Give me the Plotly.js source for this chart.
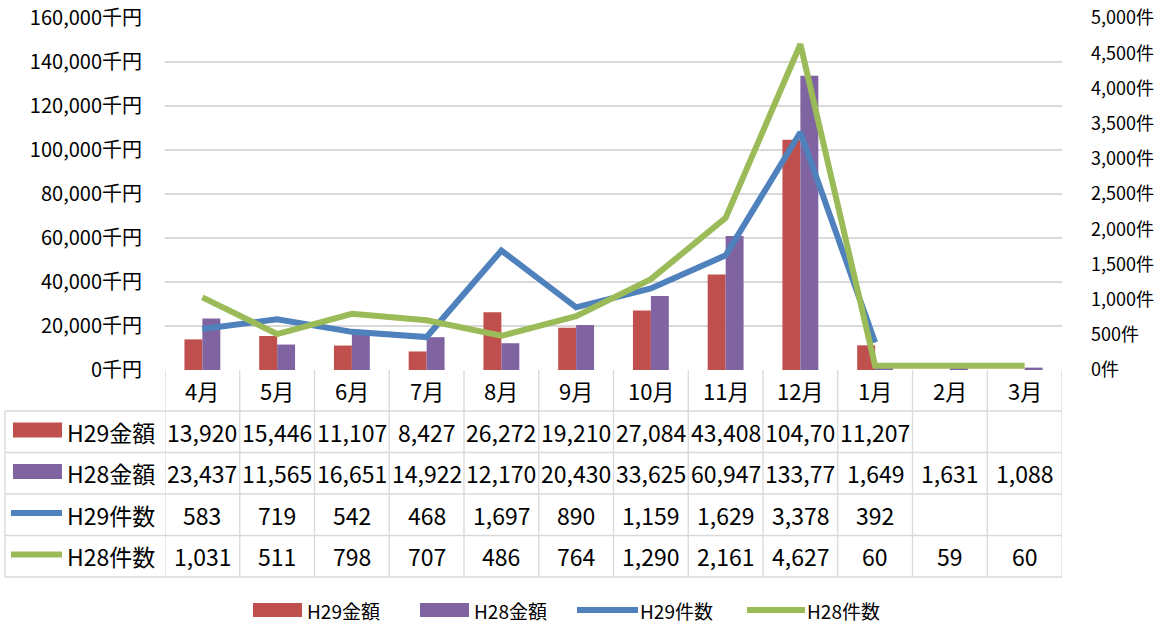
<!DOCTYPE html>
<html>
<head>
<meta charset="utf-8">
<script src="https://cdn.plot.ly/plotly-3.0.1.min.js"></script>
<style>
  html, body { margin: 0; padding: 0; background: #fff; }
  #chart { width: 1160px; height: 623px; }
</style>
</head>
<body>
<div id="chart"></div>
<script>
// ---- data ----
const months = ['4月','5月','6月','7月','8月','9月','10月','11月','12月','1月','2月','3月'];
const h29Amount = [13920, 15446, 11107, 8427, 26272, 19210, 27084, 43408, 104700, 11207, null, null];
const h28Amount = [23437, 11565, 16651, 14922, 12170, 20430, 33625, 60947, 133770, 1649, 1631, 1088];
const h29Count  = [583, 719, 542, 468, 1697, 890, 1159, 1629, 3378, 392, null, null];
const h28Count  = [1031, 511, 798, 707, 486, 764, 1290, 2161, 4627, 60, 59, 60];
const seriesNames = ['H29金額', 'H28金額', 'H29件数', 'H28件数'];
const leftTickSuffix = '千円';
const rightTickSuffix = '件';

// ---- style ----
const colors = ['#C0504D', '#8064A2', '#4F81BD', '#9BBB59'];
const FONT = '"Noto Sans CJK JP", "Noto Sans", sans-serif';
const gridColor = '#D9D9D9';

const W = 1160, H = 623;
const M = {l: 165, r: 98, t: 18, b: 253};
const PW = W - M.l - M.r, PH = H - M.t - M.b;
const px = x => (x - M.l) / PW;            // pixel x -> paper x
const py = y => (H - M.b - y) / PH;        // pixel y -> paper y

const traces = [
  {type: 'bar', name: seriesNames[0], x: months, y: h29Amount, marker: {color: colors[0]}, yaxis: 'y'},
  {type: 'bar', name: seriesNames[1], x: months, y: h28Amount, marker: {color: colors[1]}, yaxis: 'y'},
  {type: 'scatter', mode: 'lines', name: seriesNames[2], x: months, y: h29Count,
   line: {color: colors[2], width: 6}, yaxis: 'y2', connectgaps: false},
  {type: 'scatter', mode: 'lines', name: seriesNames[3], x: months, y: h28Count,
   line: {color: colors[3], width: 6}, yaxis: 'y2', connectgaps: false}
];

// ---- data table (drawn under the x axis) ----
const rowBorders = [370, 411, 452.5, 494, 535.5, 577];
const rowCenters = [390, 431.5, 473, 514.5, 556];
const labelColLeft = 5;
const shapes = [];
const annotations = [];
const tableLine = {color: gridColor, width: 1.3};
const cellFont = {family: FONT, size: 23, color: '#000'};

// horizontal lines
for (let r = 1; r < rowBorders.length; r++) {
  shapes.push({type: 'line', xref: 'paper', yref: 'paper',
    x0: px(labelColLeft), x1: 1, y0: py(rowBorders[r]), y1: py(rowBorders[r]), line: tableLine});
}
// vertical lines between month columns
for (let i = 0; i <= months.length; i++) {
  shapes.push({type: 'line', xref: 'x', yref: 'paper',
    x0: i - 0.5, x1: i - 0.5, y0: 0, y1: py(rowBorders[rowBorders.length - 1]), line: tableLine});
}
// label column left border
shapes.push({type: 'line', xref: 'paper', yref: 'paper',
  x0: px(labelColLeft), x1: px(labelColLeft), y0: py(rowBorders[1]), y1: py(rowBorders[rowBorders.length - 1]), line: tableLine});

// header month labels
months.forEach((m, i) => {
  annotations.push({xref: 'x', yref: 'paper', x: i, y: py(rowCenters[0]), text: m,
    showarrow: false, xanchor: 'center', yanchor: 'middle', font: {family: FONT, size: 22, color: '#000'}});
});

// Excel clips text that does not fit its cell
const fmt = v => v == null ? '' : v.toLocaleString('en-US').slice(0, 6);
const tableRows = [h29Amount, h28Amount, h29Count, h28Count];
tableRows.forEach((vals, r) => {
  const yc = py(rowCenters[r + 1]);
  vals.forEach((v, i) => {
    if (v == null) return;
    annotations.push({xref: 'x', yref: 'paper', x: i, y: yc, text: fmt(v),
      showarrow: false, xanchor: 'center', yanchor: 'middle', font: cellFont});
  });
  // row label
  annotations.push({xref: 'paper', yref: 'paper', x: px(65), y: yc, text: seriesNames[r],
    showarrow: false, xanchor: 'left', yanchor: 'middle', font: cellFont});
  // row key
  const ycp = rowCenters[r + 1] - 1.5;
  if (r < 2) {
    shapes.push({type: 'rect', xref: 'paper', yref: 'paper', x0: px(13), x1: px(62),
      y0: py(ycp - 7.5), y1: py(ycp + 7.5), fillcolor: colors[r], line: {width: 0}});
  } else {
    shapes.push({type: 'line', xref: 'paper', yref: 'paper', x0: px(11), x1: px(62),
      y0: py(ycp), y1: py(ycp), line: {color: colors[r], width: 6}});
  }
});

// ---- bottom legend ----
const legY = 610;
const legItems = [
  {kind: 'rect', x0: 253, x1: 302, tx: 306},
  {kind: 'rect', x0: 420, x1: 469, tx: 473},
  {kind: 'line', x0: 577, x1: 638, tx: 639},
  {kind: 'line', x0: 747, x1: 805, tx: 806}
];
legItems.forEach((it, k) => {
  if (it.kind === 'rect') {
    shapes.push({type: 'rect', xref: 'paper', yref: 'paper', x0: px(it.x0), x1: px(it.x1),
      y0: py(legY - 7), y1: py(legY + 7), fillcolor: colors[k], line: {width: 0}});
  } else {
    shapes.push({type: 'line', xref: 'paper', yref: 'paper', x0: px(it.x0), x1: px(it.x1),
      y0: py(legY), y1: py(legY), line: {color: colors[k], width: 6}});
  }
  annotations.push({xref: 'paper', yref: 'paper', x: px(it.tx), y: py(legY), text: seriesNames[k],
    showarrow: false, xanchor: 'left', yanchor: 'middle', borderpad: 0,
    font: {family: FONT, size: 19, color: '#000'}});
});

const layout = {
  width: W, height: H,
  margin: M,
  paper_bgcolor: '#fff', plot_bgcolor: '#fff',
  showlegend: false,
  barmode: 'group', bargap: 0.52, bargroupgap: 0,
  font: {family: FONT, color: '#000'},
  xaxis: {type: 'category', range: [-0.5, 11.5], showticklabels: false, showgrid: false,
          zeroline: false, showline: false, ticks: '', fixedrange: true},
  yaxis: {range: [0, 160000], dtick: 20000, tickformat: ',', ticksuffix: leftTickSuffix,
          gridcolor: gridColor, gridwidth: 1.3, zeroline: false, showline: false, ticks: '',
          ticklabelstandoff: 22, tickfont: {family: FONT, size: 20, color: '#000'}},
  yaxis2: {range: [0, 5000], dtick: 500, tickformat: ',', ticksuffix: rightTickSuffix,
           overlaying: 'y', side: 'right', showgrid: false, zeroline: false, showline: false, ticks: '',
           ticklabelstandoff: 28, tickfont: {family: FONT, size: 18, color: '#000'}},
  shapes: shapes,
  annotations: annotations
};

Plotly.newPlot('chart', traces, layout, {displayModeBar: false, staticPlot: true});
</script>
</body>
</html>
